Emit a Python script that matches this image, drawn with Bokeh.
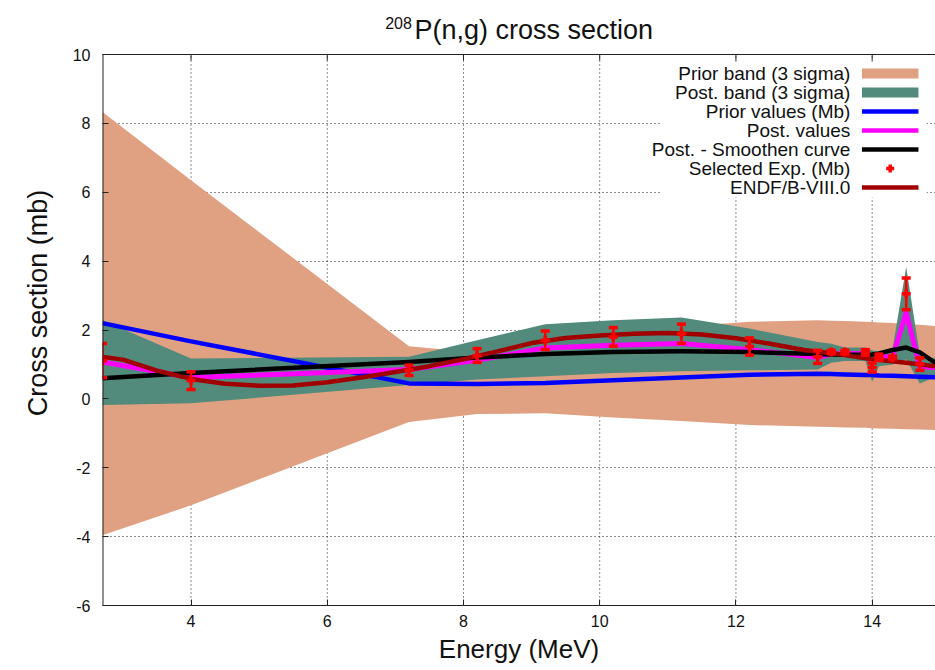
from bokeh.plotting import figure
from bokeh.models import Range1d, FixedTicker, ColumnDataSource, Label
from bokeh.core.properties import value
from bokeh.embed import file_html
from bokeh.resources import INLINE

# --- evaluation grid (MeV) shared by the bands and the posterior lines ---
energy = [2.7, 4.0, 7.2, 8.2, 9.2, 10.2, 11.2, 12.2, 13.2, 13.4, 13.6, 13.9,
          14.0, 14.1, 14.3, 14.5, 14.7, 15.0]

prior_upper = [8.33, 6.35, 1.53, 1.35, 1.65, 1.95, 2.10, 2.24, 2.28, 2.27, 2.26,
               2.24, 2.23, 2.22, 2.20, 2.17, 2.15, 2.10]
prior_lower = [-3.96, -3.09, -0.67, -0.44, -0.42, -0.54, -0.64, -0.76, -0.81, -0.82,
               -0.83, -0.84, -0.85, -0.86, -0.87, -0.88, -0.89, -0.91]

post_upper = [2.28, 1.17, 1.22, 1.70, 2.17, 2.28, 2.36, 2.04, 1.65, 1.60, 1.49,
              1.49, 1.41, 1.36, 1.46, 3.83, 1.27, 1.15]
post_lower = [-0.18, -0.13, 0.40, 0.56, 0.66, 0.75, 0.80, 0.83, 0.85, 1.05, 1.10,
              1.10, 0.50, 0.95, 1.00, 1.15, 0.45, 0.70]

prior_values = [2.20, 1.67, 0.45, 0.43, 0.46, 0.54, 0.62, 0.70, 0.73, 0.72, 0.71,
                0.69, 0.69, 0.68, 0.67, 0.66, 0.64, 0.62]
post_values = [1.07, 0.62, 0.85, 1.12, 1.48, 1.56, 1.61, 1.43, 1.20, 1.30, 1.32,
               1.32, 1.05, 1.22, 1.22, 2.50, 0.93, 0.90]
post_smooth = [0.60, 0.75, 1.07, 1.20, 1.30, 1.36, 1.38, 1.36, 1.30, 1.29, 1.28,
               1.28, 1.29, 1.32, 1.42, 1.49, 1.35, 0.95]

# --- evaluated library curve ---
endf_energy = [2.7, 3.0, 3.5, 4.0, 4.5, 5.0, 5.5, 6.0, 6.5, 7.0, 7.5, 8.0, 8.5,
               9.0, 9.5, 10.0, 10.5, 11.0, 11.5, 12.0, 12.5, 13.0, 13.5, 14.0,
               14.5, 15.0]
endf_values = [1.22, 1.14, 0.82, 0.58, 0.44, 0.38, 0.39, 0.48, 0.62, 0.78, 0.95,
               1.15, 1.38, 1.62, 1.77, 1.84, 1.89, 1.91, 1.87, 1.76, 1.60, 1.42,
               1.30, 1.15, 1.05, 0.93]

# --- selected experimental points ---
exp_energy = [2.7, 4.0, 7.2, 8.2, 9.2, 10.2, 11.2, 12.2, 13.2, 13.4, 13.6, 13.9,
              14.0, 14.1, 14.3, 14.5, 14.7]
exp_values = [1.11, 0.53, 0.83, 1.26, 1.70, 1.80, 1.89, 1.52, 1.22, 1.36, 1.36,
              1.35, 0.91, 1.21, 1.20, 3.05, 1.01]
exp_errors = [0.50, 0.26, 0.15, 0.20, 0.27, 0.27, 0.28, 0.25, 0.19, 0.05, 0.05,
              0.08, 0.13, 0.09, 0.04, 0.46, 0.18]

x_ticks = [4, 6, 8, 10, 12, 14]
y_ticks = [-6, -4, -2, 0, 2, 4, 6, 8, 10]

legend_labels = ["Prior band (3 sigma)", "Post. band (3 sigma)", "Prior values (Mb)",
                 "Post. values", "Post. - Smoothen curve", "Selected Exp. (Mb)",
                 "ENDF/B-VIII.0"]

FONT = "Liberation Sans"
C_PRIOR_BAND = "#E0A182"
C_POST_BAND = "#528A7C"
C_PRIOR = "#0000FF"
C_POST = "#FF00FF"
C_SMOOTH = "#000000"
C_EXP = "#FF0000"
C_ENDF = "#A00000"
C_TEXT = "#111111"

# plotting box spans -6..10 mb; the frame continues upward to leave room for
# the heading, which is drawn inside it
X_MIN, X_MAX = 2.7, 14.93
Y_MIN, Y_MAX = -6.0, 10.0
PX_PER_MB = 34.4375
FRAME_H = 605
Y_TOP = Y_MIN + FRAME_H / PX_PER_MB
TICK_LEN = 6 / PX_PER_MB

p = figure(width=935, height=670, output_backend="svg", toolbar_location=None,
           title=None, x_range=Range1d(X_MIN, X_MAX), y_range=Range1d(Y_MIN, Y_TOP),
           min_border_left=102, min_border_right=0, min_border_top=0,
           min_border_bottom=65)
p.outline_line_color = None
p.background_fill_color = "white"
p.border_fill_color = "white"

# axes
for ax, ticks in ((p.xaxis, x_ticks), (p.yaxis, y_ticks)):
    ax.ticker = FixedTicker(ticks=ticks)
    ax.major_label_overrides = {t: str(t) for t in ticks}
    ax.major_tick_in = 6
    ax.major_tick_out = 0
    ax.minor_tick_line_color = None
    ax.axis_line_color = "#222222"
    ax.major_tick_line_color = "#222222"
    ax.major_label_text_font = FONT
    ax.major_label_text_font_size = "16px"
    ax.major_label_text_color = C_TEXT
    ax.axis_label_text_font = FONT
    ax.axis_label_text_font_size = "26px"
    ax.axis_label_text_font_style = "normal"
    ax.axis_label_text_color = C_TEXT

p.xaxis.axis_label = "Energy (MeV)"
p.xaxis.major_label_standoff = 9
p.xaxis.axis_label_standoff = 4
p.yaxis.axis_label = "Cross section (mb)"
p.yaxis.axis_label_text_font_size = "27px"
p.yaxis.major_label_standoff = 12
p.yaxis.axis_label_standoff = 17
p.yaxis.axis_line_color = None
p.yaxis.bounds = (Y_MIN, 11.1)

# grid: horizontal lines from the grid model, vertical ones limited to the box
p.xgrid.visible = False
p.ygrid.ticker = FixedTicker(ticks=y_ticks)
p.ygrid.grid_line_color = "#000000"
p.ygrid.grid_line_dash = "1 3"
p.ygrid.grid_line_alpha = 0.9
p.segment(x0=x_ticks, y0=[Y_MIN] * len(x_ticks), x1=x_ticks, y1=[Y_MAX] * len(x_ticks),
          line_color="#000000", line_dash="1 3", line_alpha=0.9, line_width=1)

# uncertainty bands
p.varea(x=energy, y1=prior_lower, y2=prior_upper, fill_color=C_PRIOR_BAND)
p.varea(x=energy, y1=post_lower, y2=post_upper, fill_color=C_POST_BAND)

# curves
p.line(energy, prior_values, line_color=C_PRIOR, line_width=4.5, line_join="round")
p.line(energy, post_values, line_color=C_POST, line_width=5, line_join="round")
p.line(energy, post_smooth, line_color=C_SMOOTH, line_width=4.5, line_join="round")
p.line(endf_energy, endf_values, line_color=C_ENDF, line_width=4.5, line_join="round")

# experimental points with error bars
exp_src = ColumnDataSource(dict(
    x=exp_energy, y=exp_values,
    lower=[v - e for v, e in zip(exp_values, exp_errors)],
    upper=[v + e for v, e in zip(exp_values, exp_errors)],
))
p.segment(x0="x", y0="lower", x1="x", y1="upper", source=exp_src,
          line_color=C_EXP, line_width=2.5)
p.scatter("x", "lower", source=exp_src, marker="dash", size=9, line_width=3.5,
          line_color=C_EXP)
p.scatter("x", "upper", source=exp_src, marker="dash", size=9, line_width=3.5,
          line_color=C_EXP)
p.scatter("x", "y", source=exp_src, marker="cross", size=9, line_width=3.5,
          line_color=C_EXP)

# border of the plotting box (left, top) with inward ticks on top
p.segment(x0=[X_MIN], y0=[Y_MIN], x1=[X_MIN], y1=[Y_MAX], line_color="#222222",
          line_width=2)
p.segment(x0=[X_MIN], y0=[Y_MAX], x1=[15.0], y1=[Y_MAX], line_color="#222222",
          line_width=1)
p.segment(x0=x_ticks, y0=[Y_MAX] * len(x_ticks), x1=x_ticks,
          y1=[Y_MAX - TICK_LEN] * len(x_ticks), line_color="#222222", line_width=1)

# key: opaque backdrop, then samples and labels
p.quad(left=[10.89], right=[14.80], top=[9.77], bottom=[5.85],
       fill_color="white", line_color=None)

row_y0 = 9.445
row_step = 0.5515
rows = [row_y0 - i * row_step for i in range(len(legend_labels))]
s_left, s_right = 13.85, 14.68

p.quad(left=[s_left], right=[s_right], top=[rows[0] + 0.145], bottom=[rows[0] - 0.145],
       fill_color=C_PRIOR_BAND, line_color=None)
p.quad(left=[s_left], right=[s_right], top=[rows[1] + 0.145], bottom=[rows[1] - 0.145],
       fill_color=C_POST_BAND, line_color=None)
for row, col in ((rows[2], C_PRIOR), (rows[3], C_POST), (rows[4], C_SMOOTH),
                 (rows[6], C_ENDF)):
    p.segment(x0=[s_left], y0=[row], x1=[s_right], y1=[row], line_color=col,
              line_width=4.5)
p.scatter(x=[(s_left + s_right) / 2], y=[rows[5]], marker="cross", size=8,
          line_width=3.5, line_color=C_EXP)

for row, txt in zip(rows, legend_labels):
    p.add_layout(Label(x=13.68, y=row, text=txt, text_align="right",
                       text_baseline="middle", text_font=FONT,
                       text_font_size="19px", text_color=C_TEXT))

# heading with superscript mass number
p.text(x=[6.85], y=[Y_MAX + 32 / PX_PER_MB], text=["208"], text_align="left",
       text_baseline="alphabetic", text_font=value(FONT), text_font_size="16px",
       text_color=C_TEXT)
p.text(x=[7.28], y=[Y_MAX + 25 / PX_PER_MB], text=["P(n,g) cross section"],
       text_align="left", text_baseline="alphabetic", text_font=value(FONT),
       text_font_size="27px", text_color=C_TEXT)

open("out.html", "w").write(file_html(p, INLINE))
